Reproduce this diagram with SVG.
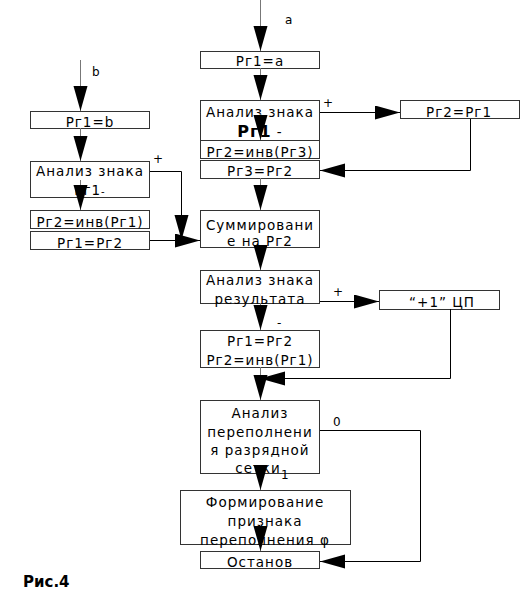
<svg xmlns="http://www.w3.org/2000/svg" width="522" height="592" viewBox="0 0 522 592">
<style>
.box{fill:#fff;stroke:#333;stroke-width:1}
.t{font-family:"DejaVu Sans","Liberation Sans",sans-serif;font-size:13.5px;letter-spacing:1px;fill:#000;text-anchor:middle}
.l{font-family:"DejaVu Sans","Liberation Sans",sans-serif;font-size:12px;fill:#000}
.c{fill:none;stroke:#000;stroke-width:1}
.v{fill:none;stroke:#777;stroke-width:1}
</style>
<defs>
<marker id="ah" markerUnits="userSpaceOnUse" markerWidth="26" markerHeight="16" refX="25" refY="7" orient="auto">
<path d="M0,0 L25,7 L0,14 z" fill="#000"/>
</marker>
</defs>
<g id="n1"><rect class="box" x="200.5" y="51.5" width="119" height="17"/><text class="t" x="260" y="66">Рг1=а</text></g>
<g id="n2"><rect class="box" x="200.5" y="100.5" width="119" height="40"/><text class="t" x="260" y="117">Анализ знака</text><text class="t" x="260" y="137"><tspan style="font-weight:bold;font-size:16px">Рг1</tspan> -</text></g>
<g id="n3"><rect class="box" x="200.5" y="140.5" width="119" height="18"/><text class="t" x="260" y="157">Рг2=инв(Рг3)</text></g>
<g id="n4"><rect class="box" x="200.5" y="160.5" width="119" height="18"/><text class="t" x="260" y="176">Рг3=Рг2</text></g>
<g id="n5"><rect class="box" x="400.5" y="100.5" width="119" height="18"/><text class="t" x="459" y="117">Рг2=Рг1</text></g>
<g id="n6"><rect class="box" x="30.5" y="111.5" width="119" height="17"/><text class="t" x="90" y="127">Рг1=b</text></g>
<g id="n7"><rect class="box" x="30.5" y="161.5" width="119" height="36"/><text class="t" x="90" y="176">Анализ знака</text><text class="t" x="90" y="195">Рг1<tspan style="font-size:10px">-</tspan></text></g>
<g id="n8"><rect class="box" x="30.5" y="210.5" width="119" height="18"/><text class="t" x="90" y="227">Рг2=инв(Рг1)</text></g>
<g id="n9"><rect class="box" x="30.5" y="231.5" width="119" height="18"/><text class="t" x="90" y="248">Рг1=Рг2</text></g>
<g id="n10"><rect class="box" x="200.5" y="210.5" width="119" height="37"/><text class="t" x="260" y="230">Суммировани</text><text class="t" x="260" y="246">е на Рг2</text></g>
<g id="n11"><rect class="box" x="200.5" y="270.5" width="119" height="33"/><text class="t" x="260" y="285">Анализ знака</text><text class="t" x="260" y="304">результата</text></g>
<g id="n12"><rect class="box" x="379.5" y="290.5" width="120" height="19"/><text class="t" x="442" y="307">“+1” ЦП</text></g>
<g id="n13"><rect class="box" x="200.5" y="330.5" width="119" height="37"/><text class="t" x="260" y="346">Рг1=Рг2</text><text class="t" x="260" y="365">Рг2=инв(Рг1)</text></g>
<g id="n14"><rect class="box" x="200.5" y="400.5" width="119" height="73"/><text class="t" x="260" y="418">Анализ</text><text class="t" x="260" y="437">переполнени</text><text class="t" x="260" y="455">я разрядной</text><text class="t" x="258" y="473">сетки</text></g>
<g id="n15"><rect class="box" x="180.5" y="490.5" width="170" height="54"/><text class="t" x="265" y="507">Формирование</text><text class="t" x="265" y="526">признака</text><text class="t" x="265" y="545">переполнения φ</text></g>
<g id="n16"><rect class="box" x="200.5" y="551.5" width="119" height="17"/><text class="t" x="260" y="567">Останов</text></g>
<g id="connectors">
<path class="v" d="M260.5,0 V51" marker-end="url(#ah)"/>
<path class="v" d="M260.5,68 V100" marker-end="url(#ah)"/>
<path class="v" d="M260.5,114 V140" marker-end="url(#ah)"/>
<path class="c" d="M320,112.5 H400" marker-end="url(#ah)"/>
<path class="c" d="M470.5,119 V170.5 H320" marker-end="url(#ah)"/>
<path class="v" d="M260.5,178 V210" marker-end="url(#ah)"/>
<path class="v" d="M80.5,60 V111" marker-end="url(#ah)"/>
<path class="v" d="M80.5,128 V161" marker-end="url(#ah)"/>
<path class="v" d="M80.5,180 V210" marker-end="url(#ah)"/>
<path class="c" d="M150,171.5 H181.5 V240" marker-end="url(#ah)"/>
<path class="c" d="M150,240.5 H200" marker-end="url(#ah)"/>
<path class="v" d="M260.5,247 V270" marker-end="url(#ah)"/>
<path class="v" d="M260.5,303 V330" marker-end="url(#ah)"/>
<path class="c" d="M320,301.5 H379" marker-end="url(#ah)"/>
<path class="c" d="M450.5,309 V378.5 H260" marker-end="url(#ah)"/>
<path class="v" d="M260.5,367 V400" marker-end="url(#ah)"/>
<path class="v" d="M260.5,465 V490" marker-end="url(#ah)"/>
<path class="c" d="M320,430.5 H420.5 V561.5 H320" marker-end="url(#ah)"/>
<path class="v" d="M260.5,525 V551" marker-end="url(#ah)"/>
</g>
<g id="labels">
<text class="l" x="285" y="24">а</text>
<text class="l" x="92" y="76">b</text>
<text class="l" x="323" y="107">+</text>
<text class="l" x="153" y="163">+</text>
<text class="l" x="333" y="296">+</text>
<text class="l" x="277" y="327">-</text>
<text class="l" x="333" y="426">0</text>
<text class="l" x="281" y="479">1</text>
<text x="23" y="587" style="font-family:'DejaVu Sans','Liberation Sans',sans-serif;font-size:15px;font-weight:bold">Рис.4</text>
</g>
</svg>
